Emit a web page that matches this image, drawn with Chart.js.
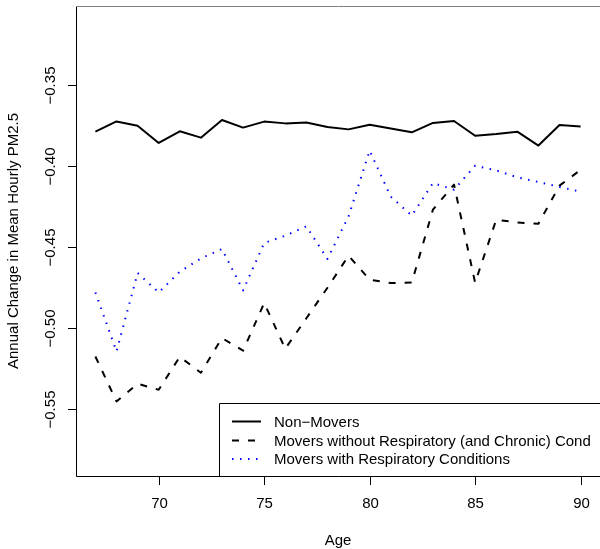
<!DOCTYPE html>
<html>
<head>
<meta charset="utf-8">
<script src="https://cdn.jsdelivr.net/npm/chart.js@4/dist/chart.umd.min.js"></script>
<style>
  html, body { margin: 0; padding: 0; background: #fff; }
  #wrap { width: 600px; height: 549px; }
</style>
</head>
<body>
<div id="wrap"><canvas id="chart" width="600" height="549"></canvas></div>
<script>
// ---------- Data ----------
const ages = [67, 68, 69, 70, 71, 72, 73, 74, 75, 76, 77, 78, 79, 80, 81, 82, 83, 84, 85, 86, 87, 88, 89, 90];

const nonMovers = [
  -0.379, -0.3727, -0.3753, -0.3860, -0.3788, -0.3827, -0.3718, -0.3765,
  -0.3728, -0.3739, -0.3733, -0.3761, -0.3776, -0.3747, -0.3770, -0.3794,
  -0.3736, -0.3724, -0.3815, -0.3804, -0.3790, -0.3876, -0.3749, -0.3759
];
const moversNoResp = [
  -0.5177, -0.5454, -0.5345, -0.5382, -0.5179, -0.5277, -0.5063, -0.5141,
  -0.4847, -0.5129, -0.4941, -0.4753, -0.4555, -0.4703, -0.4724, -0.4720,
  -0.4271, -0.4117, -0.4722, -0.4333, -0.4350, -0.4358, -0.4123, -0.4026
];
const moversResp = [
  -0.4782, -0.5146, -0.4662, -0.4782, -0.4654, -0.4572, -0.4514, -0.4769,
  -0.4477, -0.4432, -0.4374, -0.4575, -0.4313, -0.3907, -0.4191, -0.4308,
  -0.4107, -0.4148, -0.4000, -0.4029, -0.4072, -0.4100, -0.4131, -0.4160
];

const seriesNames = [
  'Non\u2212Movers',
  'Movers without Respiratory (and Chronic) Cond',
  'Movers with Respiratory Conditions'
];

const xTicks = [70, 75, 80, 85, 90];
const yTicks = [-0.55, -0.50, -0.45, -0.40, -0.35];
const yTickLabels = ['\u22120.55', '\u22120.50', '\u22120.45', '\u22120.40', '\u22120.35'];

const xTitle = 'Age';
const yTitle = 'Annual Change in Mean Hourly PM2.5';

// ---------- Styles ----------
const FONT = '15px "Liberation Sans", Arial, Helvetica, sans-serif';
const styles = [
  { color: '#000000', dash: [], width: 2, cap: 'butt' },
  { color: '#000000', dash: [7, 9], width: 2, cap: 'butt' },
  { color: '#0000ff', dash: [1.5, 6.5], width: 2, cap: 'butt' }
];

function toPoints(vals){ return ages.map((a, i) => ({ x: a, y: vals[i] })); }

// ---------- R-like axes, box and legend ----------
const baseGraphics = {
  id: 'baseGraphics',
  afterDatasetsDraw(chart){
    const { ctx, chartArea: a, scales: { x, y } } = chart;
    ctx.save();
    ctx.font = FONT;
    ctx.fillStyle = '#000';

    // plot box
    ctx.lineWidth = 1;
    ctx.strokeStyle = '#000';
    ctx.beginPath();
    ctx.moveTo(a.left + 0.5, a.top);
    ctx.lineTo(a.left + 0.5, a.bottom + 0.5);
    ctx.lineTo(a.right + 1, a.bottom + 0.5);
    ctx.stroke();
    ctx.strokeStyle = '#808080';
    ctx.beginPath();
    ctx.moveTo(a.left, a.top + 0.5);
    ctx.lineTo(a.right + 1, a.top + 0.5);
    ctx.stroke();

    // x axis
    ctx.strokeStyle = '#000';
    ctx.textAlign = 'center';
    ctx.textBaseline = 'middle';
    xTicks.forEach(t => {
      const px = Math.round(x.getPixelForValue(t)) + 0.5;
      ctx.beginPath();
      ctx.moveTo(px, a.bottom);
      ctx.lineTo(px, a.bottom + 9);
      ctx.stroke();
      ctx.fillText(String(t), px, 504);
    });
    ctx.fillText(xTitle, (a.left + a.right) / 2, 541);

    // y axis
    yTicks.forEach((t, i) => {
      const py = Math.round(y.getPixelForValue(t)) + 0.5;
      ctx.beginPath();
      ctx.moveTo(a.left - 8, py);
      ctx.lineTo(a.left, py);
      ctx.stroke();
      ctx.save();
      ctx.translate(51, py);
      ctx.rotate(-Math.PI / 2);
      ctx.fillText(yTickLabels[i], 0, 0);
      ctx.restore();
    });
    ctx.save();
    ctx.translate(14, (a.top + a.bottom) / 2);
    ctx.rotate(-Math.PI / 2);
    ctx.fillText(yTitle, 0, 0);
    ctx.restore();

    // legend
    const lx = 219.5, ly = 403.5;
    ctx.fillStyle = '#fff';
    ctx.fillRect(lx, ly, 600 - lx + 2, a.bottom - ly);
    ctx.strokeStyle = '#000';
    ctx.lineWidth = 1;
    ctx.beginPath();
    ctx.moveTo(lx, a.bottom);
    ctx.lineTo(lx, ly);
    ctx.lineTo(602, ly);
    ctx.stroke();
    const rows = [421.5, 440.5, 459];
    ctx.textAlign = 'left';
    seriesNames.forEach((name, i) => {
      const s = styles[i];
      ctx.save();
      ctx.strokeStyle = s.color;
      ctx.lineWidth = s.width;
      ctx.lineCap = s.cap;
      ctx.setLineDash(s.dash);
      ctx.beginPath();
      ctx.moveTo(232, rows[i]);
      ctx.lineTo(261, rows[i]);
      ctx.stroke();
      ctx.restore();
      ctx.fillStyle = '#000';
      ctx.fillText(name, 274, rows[i] + 1);
    });

    ctx.restore();
  }
};

// ---------- Chart ----------
const datasets = [nonMovers, moversNoResp, moversResp].map((vals, i) => ({
  label: seriesNames[i],
  data: toPoints(vals),
  borderColor: styles[i].color,
  backgroundColor: styles[i].color,
  borderWidth: styles[i].width,
  borderDash: styles[i].dash,
  borderCapStyle: styles[i].cap,
  borderJoinStyle: 'round',
  pointRadius: 0,
  tension: 0,
  fill: false
}));

new Chart(document.getElementById('chart').getContext('2d'), {
  type: 'line',
  data: { datasets },
  options: {
    animation: false,
    responsive: false,
    devicePixelRatio: 1,
    layout: { padding: { left: 76, right: 0, top: 6, bottom: 73 } },
    scales: {
      x: { type: 'linear', min: 66.08, max: 90.92, display: false },
      y: { type: 'linear', min: -0.5914, max: -0.3015, display: false }
    },
    plugins: { legend: { display: false }, tooltip: { enabled: false } }
  },
  plugins: [baseGraphics]
});
</script>
</body>
</html>
